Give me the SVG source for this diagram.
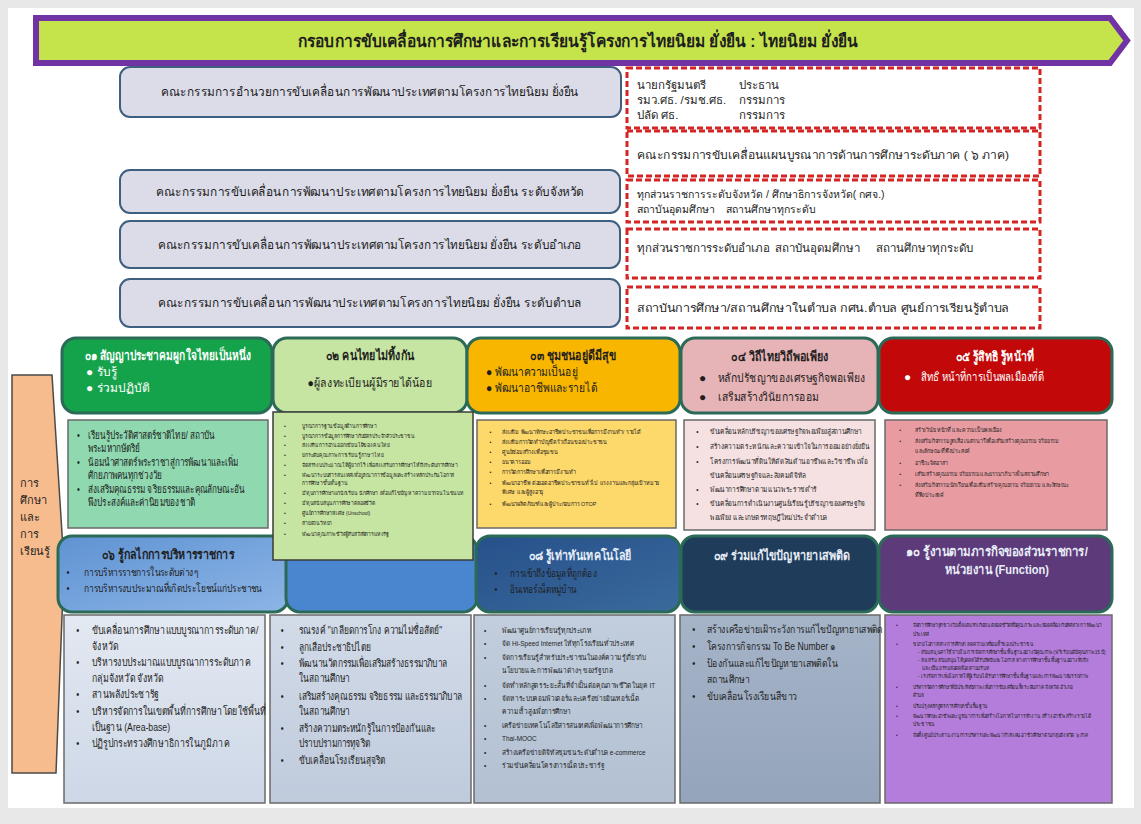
<svg xmlns="http://www.w3.org/2000/svg" width="1141" height="824" viewBox="0 0 1141 824">
<defs>
<style>
text{font-family:"Liberation Sans","Noto Sans",sans-serif;fill:#1e1e1e}
.ttl{font-size:17px;font-weight:bold;text-anchor:middle}
.cm{font-size:12.5px;text-anchor:middle}
.cmbox{fill:#dcdce9;stroke:#3f5f80;stroke-width:2}
.dash{fill:#ffffff;stroke:#d42424;stroke-width:3;stroke-dasharray:6 3}
.dt{font-size:11.5px}
.dt2{font-size:10.5px}
.hd{stroke:#2c6a58;stroke-width:3}
.h{font-size:13px;font-weight:bold;text-anchor:middle}
.hb{font-size:12px}
.w{fill:#ffffff}
.lt{fill:#e8eef8}
.det{stroke:#6a6a6a;stroke-width:1.5}
.s11{font-size:11px}
.s10{font-size:10.5px}
.s75{font-size:7.5px}
.s6{font-size:6px}
.s55{font-size:5.6px}
</style>
<linearGradient id="g06" x1="0" y1="0" x2="1" y2="1"><stop offset="0" stop-color="#5f93d3"/><stop offset="1" stop-color="#8db5e6"/></linearGradient>
<linearGradient id="g08" x1="0" y1="0" x2="1" y2="1"><stop offset="0" stop-color="#26508a"/><stop offset="1" stop-color="#3a6a9c"/></linearGradient>
<linearGradient id="gd06" x1="0" y1="0" x2="0" y2="1"><stop offset="0" stop-color="#e3e9f2"/><stop offset="1" stop-color="#cdd7e6"/></linearGradient>
<linearGradient id="gd07" x1="0" y1="0" x2="0" y2="1"><stop offset="0" stop-color="#d2dbe8"/><stop offset="1" stop-color="#bfcadc"/></linearGradient>
<linearGradient id="gd08" x1="0" y1="0" x2="0" y2="1"><stop offset="0" stop-color="#c2cedd"/><stop offset="1" stop-color="#b2c0d2"/></linearGradient>
<linearGradient id="gd09" x1="0" y1="0" x2="0" y2="1"><stop offset="0" stop-color="#a6b4c8"/><stop offset="1" stop-color="#94a4bb"/></linearGradient>
</defs>

<rect x="0" y="0" width="1141" height="824" fill="#e8e8e8"/>
<rect x="8" y="8" width="1126" height="800" fill="#ffffff"/>

<g id="banner">
<polygon points="36,18 1110,18 1127,40.5 1110,63 36,63" fill="#c5e34b" stroke="#7133a3" stroke-width="6"/>
<text class="ttl" x="578" y="47" textLength="560" lengthAdjust="spacingAndGlyphs">กรอบการขับเคลื่อนการศึกษาและการเรียนรู้โครงการไทยนิยม ยั่งยืน : ไทยนิยม ยั่งยืน</text>
</g>

<g id="committee-national">
<rect class="cmbox" x="120" y="67" width="501" height="50" rx="10"/>
<text class="cm" x="370" y="96" textLength="418" lengthAdjust="spacingAndGlyphs">คณะกรรมการอำนวยการขับเคลื่อนการพัฒนาประเทศตามโครงการไทยนิยม ยั่งยืน</text>
</g>
<g id="members-national">
<rect class="dash" x="627" y="68" width="413" height="60"/>
<text class="dt" x="637" y="89">นายกรัฐมนตรี</text><text class="dt" x="739" y="89">ประธาน</text>
<text class="dt" x="637" y="104">รมว.ศธ. /รมช.ศธ.</text><text class="dt" x="739" y="104">กรรมการ</text>
<text class="dt" x="637" y="119">ปลัด ศธ.</text><text class="dt" x="739" y="119">กรรมการ</text>
</g>
<g id="members-region">
<rect class="dash" x="627" y="131" width="413" height="45"/>
<text class="dt" x="637" y="159" textLength="372" lengthAdjust="spacingAndGlyphs">คณะกรรมการขับเคลื่อนแผนบูรณาการด้านการศึกษาระดับภาค ( ๖ ภาค)</text>
</g>
<g id="committee-province">
<rect class="cmbox" x="120" y="170" width="500" height="43" rx="10"/>
<text class="cm" x="370" y="196" textLength="428" lengthAdjust="spacingAndGlyphs">คณะกรรมการขับเคลื่อนการพัฒนาประเทศตามโครงการไทยนิยม ยั่งยืน ระดับจังหวัด</text>
</g>
<g id="members-province">
<rect class="dash" x="627" y="180" width="413" height="42"/>
<text class="dt2" x="637" y="198">ทุกส่วนราชการระดับจังหวัด / ศึกษาธิการจังหวัด( กศจ.)</text>
<text class="dt2" x="637" y="213">สถาบันอุดมศึกษา</text><text class="dt2" x="726" y="213">สถานศึกษาทุกระดับ</text>
</g>
<g id="committee-district">
<rect class="cmbox" x="120" y="221" width="500" height="47" rx="10"/>
<text class="cm" x="370" y="249" textLength="424" lengthAdjust="spacingAndGlyphs">คณะกรรมการขับเคลื่อนการพัฒนาประเทศตามโครงการไทยนิยม ยั่งยืน ระดับอำเภอ</text>
</g>
<g id="members-district">
<rect class="dash" x="627" y="229" width="413" height="49"/>
<text class="dt" x="637" y="252">ทุกส่วนราชการระดับอำเภอ</text><text class="dt" x="775" y="252">สถาบันอุดมศึกษา</text><text class="dt" x="876" y="252">สถานศึกษาทุกระดับ</text>
</g>
<g id="committee-subdistrict">
<rect class="cmbox" x="120" y="279" width="500" height="48" rx="10"/>
<text class="cm" x="370" y="307" textLength="424" lengthAdjust="spacingAndGlyphs">คณะกรรมการขับเคลื่อนการพัฒนาประเทศตามโครงการไทยนิยม ยั่งยืน ระดับตำบล</text>
</g>
<g id="members-subdistrict">
<rect class="dash" x="627" y="287" width="413" height="41"/>
<text class="dt" x="637" y="312" textLength="372" lengthAdjust="spacingAndGlyphs">สถาบันการศึกษา/สถานศึกษาในตำบล กศน.ตำบล  ศูนย์การเรียนรู้ตำบล</text>
</g>

<g id="side-label">
<polygon points="12,375 52,375 64,565 56,773 12,773" fill="#f7bc8d" stroke="#4a4a4a" stroke-width="1.5"/>
<text class="s11" x="20" y="487">การ</text>
<text class="s11" x="20" y="504">ศึกษา</text>
<text class="s11" x="20" y="521">และ</text>
<text class="s11" x="20" y="538">การ</text>
<text class="s11" x="20" y="555">เรียนรู้</text>
</g>

<!-- Row 1 headers -->
<g id="h01">
<rect class="hd" x="62" y="338" width="210" height="75" rx="14" fill="#14a24a"/>
<text class="h w" transform="translate(168,360) scale(0.78,1)">๐๑ สัญญาประชาคมผูกใจไทยเป็นหนึ่ง</text>
<text class="hb w" x="86" y="376">● รับรู้</text>
<text class="hb w" x="86" y="392">● ร่วมปฏิบัติ</text>
</g>
<g id="h02">
<rect class="hd" x="273" y="338" width="194" height="75" rx="14" fill="#c6e5a2"/>
<text class="h" transform="translate(370,360) scale(0.82,1)">๐๒  คนไทยไม่ทิ้งกัน</text>
<text class="hb" transform="translate(370,387) scale(0.88,1)" text-anchor="middle">●ผู้ลงทะเบียนผู้มีรายได้น้อย</text>
</g>
<g id="h03">
<rect class="hd" x="467" y="338" width="213" height="75" rx="14" fill="#f8b600"/>
<text class="h" transform="translate(573,360) scale(0.82,1)">๐๓ ชุมชนอยู่ดีมีสุข</text>
<text class="hb" transform="translate(486,376) scale(0.86,1)">● พัฒนาความเป็นอยู่</text>
<text class="hb" transform="translate(486,392) scale(0.86,1)">● พัฒนาอาชีพและรายได้</text>
</g>
<g id="h04">
<rect class="hd" x="681" y="338" width="197" height="75" rx="14" fill="#e6b3b6"/>
<text class="h" transform="translate(780,361) scale(0.82,1)">๐๔  วิถีไทยวิถีพอเพียง</text>
<text class="hb" x="699" y="382">●</text><text class="hb" transform="translate(718,382) scale(0.86,1)">หลักปรัชญาของเศรษฐกิจพอเพียง</text>
<text class="hb" x="699" y="401">●</text><text class="hb" transform="translate(718,401) scale(0.86,1)">เสริมสร้างวินัยการออม</text>
</g>
<g id="h05">
<rect class="hd" x="879" y="338" width="233" height="75" rx="14" fill="#c20808"/>
<text class="h w" transform="translate(995,361) scale(0.82,1)">๐๕  รู้สิทธิ รู้หน้าที่</text>
<text class="hb w" x="904" y="381">●</text><text class="hb w" transform="translate(921,381) scale(0.8,1)">สิทธิ หน้าที่การเป็นพลเมืองที่ดี</text>
</g>

<!-- Row 1 details -->
<g id="d01">
<rect class="det" x="68" y="420" width="200" height="108" fill="#8fd8b0"/>
<g class="s11" transform="translate(88,0) scale(0.74,1)">
<text x="-15" y="439">•</text><text x="0" y="439">เรียนรู้ประวัติศาสตร์ชาติไทย/ สถาบัน</text>
<text x="0" y="452">พระมหากษัตริย์</text>
<text x="-15" y="466">•</text><text x="0" y="466">น้อมนำศาสตร์พระราชาสู่การพัฒนาและเพิ่ม</text>
<text x="0" y="479">ศักยภาพคนทุกช่วงวัย</text>
<text x="-15" y="493">•</text><text x="0" y="493">ส่งเสริมคุณธรรม จริยธรรมและคุณลักษณะอัน</text>
<text x="0" y="506">พึงประสงค์และค่านิยมของชาติ</text>
</g>
</g>

<g id="h06">
<rect class="hd" x="58" y="536" width="230" height="76" rx="14" fill="url(#g06)"/>
<text class="h" transform="translate(168,559) scale(0.82,1)">๐๖ รู้กลไกการบริหารราชการ</text>
<g class="s10" transform="translate(84,0) scale(0.8,1)">
<text x="-22" y="576">•</text><text x="0" y="576">การบริหารราชการในระดับต่างๆ</text>
<text x="-22" y="592">•</text><text x="0" y="592">การบริหารงบประมาณที่เกิดประโยชน์แก่ประชาชน</text>
</g>
</g>
<g id="h07">
<rect class="hd" x="286" y="536" width="191" height="76" rx="14" fill="#4a86d0"/>
</g>

<g id="d02">
<rect x="273" y="412" width="200" height="148" fill="#c6e5a2" stroke="#3a3a3a" stroke-width="1.5"/>
<g class="s55" transform="translate(302,0) scale(0.9,1)">
<text x="-20" y="428">•</text><text x="0" y="428">บูรณาการฐานข้อมูลด้านการศึกษา</text>
<text x="-20" y="438">•</text><text x="0" y="438">บูรณาการข้อมูลการศึกษากับบัตรประจำตัวประชาชน</text>
<text x="-20" y="447">•</text><text x="0" y="447">ส่งเสริมการอ่านออกเขียนได้ของคนไทย</text>
<text x="-20" y="457">•</text><text x="0" y="457">ยกระดับคุณภาพการเรียนรู้ภาษาไทย</text>
<text x="-20" y="467">•</text><text x="0" y="467">จัดสรรงบประมาณให้ผู้ยากไร้ เพื่อส่งเสริมการศึกษาให้ถึงระดับการศึกษา</text>
<text x="-20" y="477">•</text><text x="0" y="477">พัฒนาระบบสารสนเทศเพื่อบูรณาการข้อมูลและสร้างหลักประกันโอกาส</text>
<text x="0" y="485">การศึกษาขั้นพื้นฐาน</text>
<text x="-20" y="495">•</text><text x="0" y="495">มีทุนการศึกษาแก่นักเรียน นักศึกษา เพื่อแก้ไขปัญหาความยากจนในชนบท</text>
<text x="-20" y="505">•</text><text x="0" y="505">มีทุนสนับสนุนการศึกษาตลอดชีวิต</text>
<text x="-20" y="515">•</text><text x="0" y="515">ศูนย์การศึกษาพิเศษ (Unschool)</text>
<text x="-20" y="525">•</text><text x="0" y="525">สายด่วนวิทยา</text>
<text x="-20" y="536">•</text><text x="0" y="536">พัฒนาคุณภาพชีวิตผู้รับสวัสดิการแห่งรัฐ</text>
</g>
</g>

<g id="d03">
<rect class="det" x="477" y="420" width="199" height="108" fill="#fdd86b"/>
<g class="s6" transform="translate(502,0) scale(0.9,1)">
<text x="-14" y="434">•</text><text x="0" y="434">ส่งเสริม พัฒนาทักษะอาชีพประชาชนเพื่อการมีงานทำ/ รายได้</text>
<text x="-14" y="444">•</text><text x="0" y="444">ส่งเสริมการจัดทำบัญชีครัวเรือนของประชาชน</text>
<text x="-14" y="454">•</text><text x="0" y="454">ศูนย์ซ่อมสร้างเพื่อชุมชน</text>
<text x="-14" y="464">•</text><text x="0" y="464">ธนาคารออม</text>
<text x="-14" y="474">•</text><text x="0" y="474">การจัดการศึกษาเพื่อการมีงานทำ</text>
<text x="-14" y="485">•</text><text x="0" y="485">พัฒนาอาชีพ ต่อยอดอาชีพประชาชนทั่วไป แรงงานและกลุ่มเป้าหมาย</text>
<text x="0" y="494">พิเศษ และผู้สูงอายุ</text>
<text x="-14" y="506">•</text><text x="0" y="506">พัฒนาผลิตภัณฑ์และผู้ประกอบการ OTOP</text>
</g>
</g>

<g id="d04">
<rect class="det" x="684" y="420" width="191" height="110" fill="#f6e1e2"/>
<g class="s75" transform="translate(710,0) scale(0.86,1)">
<text x="-16" y="434">•</text><text x="0" y="434">ขับเคลื่อนหลักปรัชญาของเศรษฐกิจพอเพียงสู่สถานศึกษา</text>
<text x="-16" y="449">•</text><text x="0" y="449">สร้างความตระหนักและความเข้าใจในการออมอย่างยั่งยืน</text>
<text x="-16" y="464">•</text><text x="0" y="464">โครงการพัฒนาที่ดินให้ตัดสินด้านอาชีพและวิชาชีพ เพื่อ</text>
<text x="0" y="478">ขับเคลื่อนเศรษฐกิจและสังคมดิจิทัล</text>
<text x="-16" y="492">•</text><text x="0" y="492">พัฒนาการศึกษาตามแนวพระราชดำริ</text>
<text x="-16" y="506">•</text><text x="0" y="506">ขับเคลื่อนการดำเนินงานศูนย์เรียนรู้ปรัชญาของเศรษฐกิจ</text>
<text x="0" y="520">พอเพียง และเกษตรทฤษฎีใหม่ประจำตำบล</text>
</g>
</g>

<g id="d05">
<rect class="det" x="885" y="420" width="222" height="110" fill="#e89ca2"/>
<g class="s6" transform="translate(915,0) scale(0.88,1)">
<text x="-18" y="432">•</text><text x="0" y="432">สร้างวินัย หน้าที่ และความเป็นพลเมือง</text>
<text x="-18" y="443">•</text><text x="0" y="443">ส่งเสริมกิจกรรมลูกเสือ เนตรนารีเพื่อเสริมสร้างคุณธรรม จริยธรรม</text>
<text x="0" y="453">และลักษณะที่พึงประสงค์</text>
<text x="-18" y="465">•</text><text x="0" y="465">อาชีวะจิตอาสา</text>
<text x="-18" y="476">•</text><text x="0" y="476">เสริมสร้างคุณธรรม จริยธรรมและธรรมาภิบาลในสถานศึกษา</text>
<text x="-18" y="487">•</text><text x="0" y="487">ส่งเสริมกิจกรรมนักเรียนเพื่อเสริมสร้างคุณธรรม จริยธรรม และลักษณะ</text>
<text x="0" y="497">ที่พึงประสงค์</text>
</g>
</g>

<!-- Row 2 headers -->
<g id="h08">
<rect class="hd" x="476" y="536" width="204" height="76" rx="14" fill="url(#g08)"/>
<text class="h lt" transform="translate(580,560) scale(0.82,1)">๐๘ รู้เท่าทันเทคโนโลยี</text>
<g class="s10 lt" transform="translate(510,0) scale(0.78,1)">
<text x="-20" y="577">•</text><text x="0" y="577">การเข้าถึงข้อมูลที่ถูกต้อง</text>
<text x="-20" y="593">•</text><text x="0" y="593">อินเทอร์เน็ตหมู่บ้าน</text>
</g>
</g>
<g id="h09">
<rect class="hd" x="681" y="536" width="197" height="76" rx="14" fill="#1f3c5b"/>
<text class="h lt" transform="translate(782,560) scale(0.83,1)">๐๙  ร่วมแก้ไขปัญหายาเสพติด</text>
</g>
<g id="h10">
<rect class="hd" x="879" y="536" width="233" height="76" rx="14" fill="#5d3a7a"/>
<text class="h lt" transform="translate(997,556) scale(0.88,1)">๑๐  รู้งานตามภารกิจของส่วนราชการ/</text>
<text class="h lt" transform="translate(997,574) scale(0.85,1)">หน่วยงาน (Function)</text>
</g>

<!-- Row 2 details -->
<g id="d06">
<rect class="det" x="64" y="615" width="201" height="188" fill="url(#gd06)"/>
<g class="s11" transform="translate(92,0) scale(0.79,1)">
<text x="-20" y="634">•</text><text x="0" y="634">ขับเคลื่อนการศึกษาแบบบูรณาการระดับภาค/</text>
<text x="0" y="650">จังหวัด</text>
<text x="-20" y="666">•</text><text x="0" y="666">บริหารงบประมาณแบบบูรณาการระดับภาค</text>
<text x="0" y="682">กลุ่มจังหวัด จังหวัด</text>
<text x="-20" y="698">•</text><text x="0" y="698">สานพลังประชารัฐ</text>
<text x="-20" y="715">•</text><text x="0" y="715">บริหารจัดการในเขตพื้นที่การศึกษาโดยใช้พื้นที่</text>
<text x="0" y="731">เป็นฐาน (Area-base)</text>
<text x="-20" y="747">•</text><text x="0" y="747">ปฏิรูปกระทรวงศึกษาธิการในภูมิภาค</text>
</g>
</g>
<g id="d07">
<rect class="det" x="270" y="615" width="201" height="188" fill="url(#gd07)"/>
<g class="s11" transform="translate(299,0) scale(0.76,1)">
<text x="-24" y="634">•</text><text x="0" y="634">รณรงค์ "เกลียดการโกง ความไม่ซื่อสัตย์"</text>
<text x="-24" y="651">•</text><text x="0" y="651">ลูกเสือประชาธิปไตย</text>
<text x="-24" y="667">•</text><text x="0" y="667">พัฒนานวัตกรรมเพื่อเสริมสร้างธรรมาภิบาล</text>
<text x="0" y="682">ในสถานศึกษา</text>
<text x="-24" y="700">•</text><text x="0" y="700">เสริมสร้างคุณธรรม จริยธรรม และธรรมาภิบาล</text>
<text x="0" y="715">ในสถานศึกษา</text>
<text x="-24" y="732">•</text><text x="0" y="732">สร้างความตระหนักรู้ในการป้องกันและ</text>
<text x="0" y="747">ปราบปรามการทุจริต</text>
<text x="-24" y="764">•</text><text x="0" y="764">ขับเคลื่อนโรงเรียนสุจริต</text>
</g>
</g>
<g id="d08">
<rect class="det" x="474" y="615" width="201" height="188" fill="url(#gd08)"/>
<g class="s75" transform="translate(502,0) scale(0.86,1)">
<text x="-21" y="633">•</text><text x="0" y="633">พัฒนาศูนย์การเรียนรู้ทุกประเภท</text>
<text x="-21" y="646">•</text><text x="0" y="646">จัด Hi-Speed Internet ให้ทุกโรงเรียนทั่วประเทศ</text>
<text x="-21" y="660">•</text><text x="0" y="660">จัดการเรียนรู้สำหรับประชาชนในองค์ความรู้เกี่ยวกับ</text>
<text x="0" y="673">นโยบายและการพัฒนาต่างๆ ของรัฐบาล</text>
<text x="-21" y="688">•</text><text x="0" y="688">จัดทำหลักสูตรระยะสั้นที่จำเป็นต่อคุณภาพชีวิตในยุค IT</text>
<text x="-21" y="701">•</text><text x="0" y="701">จัดหาระบบคอมพิวเตอร์และเครือข่ายอินเทอร์เน็ต</text>
<text x="0" y="714">ความเร็วสูงเพื่อการศึกษา</text>
<text x="-21" y="728">•</text><text x="0" y="728">เครือข่ายเทคโนโลยีสารสนเทศเพื่อพัฒนาการศึกษา</text>
<text x="-21" y="741">•</text><text x="0" y="741">Thai-MOOC</text>
<text x="-21" y="755">•</text><text x="0" y="755">สร้างเครือข่ายดิจิทัลชุมชนระดับตำบล e-commerce</text>
<text x="-21" y="768">•</text><text x="0" y="768">ร่วมขับเคลื่อนโครงการเน็ตประชารัฐ</text>
</g>
</g>
<g id="d09">
<rect class="det" x="680" y="615" width="200" height="188" fill="url(#gd09)"/>
<g class="s10" transform="translate(707,0) scale(0.82,1)">
<text x="-18" y="633">•</text><text x="0" y="633">สร้างเครือข่ายเฝ้าระวังการแก้ไขปัญหายาเสพติด</text>
<text x="-18" y="650">•</text><text x="0" y="650">โครงการกิจกรรม To Be Number ๑</text>
<text x="-18" y="667">•</text><text x="0" y="667">ป้องกันและแก้ไขปัญหายาเสพติดใน</text>
<text x="0" y="683">สถานศึกษา</text>
<text x="-18" y="700">•</text><text x="0" y="700">ขับเคลื่อนโรงเรียนสีขาว</text>
</g>
</g>
<g id="d10">
<rect class="det" x="885" y="615" width="227" height="188" fill="#b47ddb"/>
<g class="s55" transform="translate(913,0) scale(0.85,1)">
<text x="-20" y="627">•</text><text x="0" y="627">จัดการศึกษาทุกช่วงวัยตั้งแต่แรกเกิดจนตลอดชีวิตที่มีคุณภาพ และสอดคล้องกับทิศทางการพัฒนา</text>
<text x="0" y="636">ประเทศ</text>
<text x="-20" y="646">•</text><text x="0" y="646">ขยายโอกาสทางการศึกษา ลดความเหลื่อมล้ำของประชาชน</text>
<text x="6" y="654">- สนับสนุนค่าใช้จ่ายในการจัดการศึกษาขั้นพื้นฐานอย่างมีคุณภาพ (ฟรีเรียนดีมีคุณภาพ 15 ปี)</text>
<text x="6" y="662">- ส่งเสริม สนับสนุนให้บุคคลได้รับสิทธิและโอกาส ทางการศึกษาขั้นพื้นฐานอย่างทั่วถึง</text>
<text x="11" y="670">และเป็นธรรมสอดคล้องตามบริบท</text>
<text x="6" y="678">- เร่งรัดการเพิ่มโอกาสให้ผู้เรียนได้รับการศึกษาขั้นพื้นฐานและการพัฒนาสมรรถภาพ</text>
<text x="-20" y="689">•</text><text x="0" y="689">บริหารจัดการศึกษาที่มีประสิทธิภาพ เพื่อการขับเคลื่อนทั้งระดับภาค จังหวัด อำเภอ</text>
<text x="0" y="697">ตำบล</text>
<text x="-20" y="708">•</text><text x="0" y="708">ปรับปรุงหลักสูตรการศึกษาขั้นพื้นฐาน</text>
<text x="-20" y="718">•</text><text x="0" y="718">พัฒนาทักษะอาชีพและบูรณาการเพื่อสร้างโอกาสในการทำงาน สร้างอาชีพ สร้างรายได้</text>
<text x="0" y="726">ประชาชน</text>
<text x="-20" y="737">•</text><text x="0" y="737">จัดตั้งศูนย์ประสานงานการบริหารและพัฒนากำลังคนอาชีวศึกษาตามกลุ่มจังหวัด ๖ ภาค</text>
</g>
</g>

<g id="connectors"></g>
</svg>
